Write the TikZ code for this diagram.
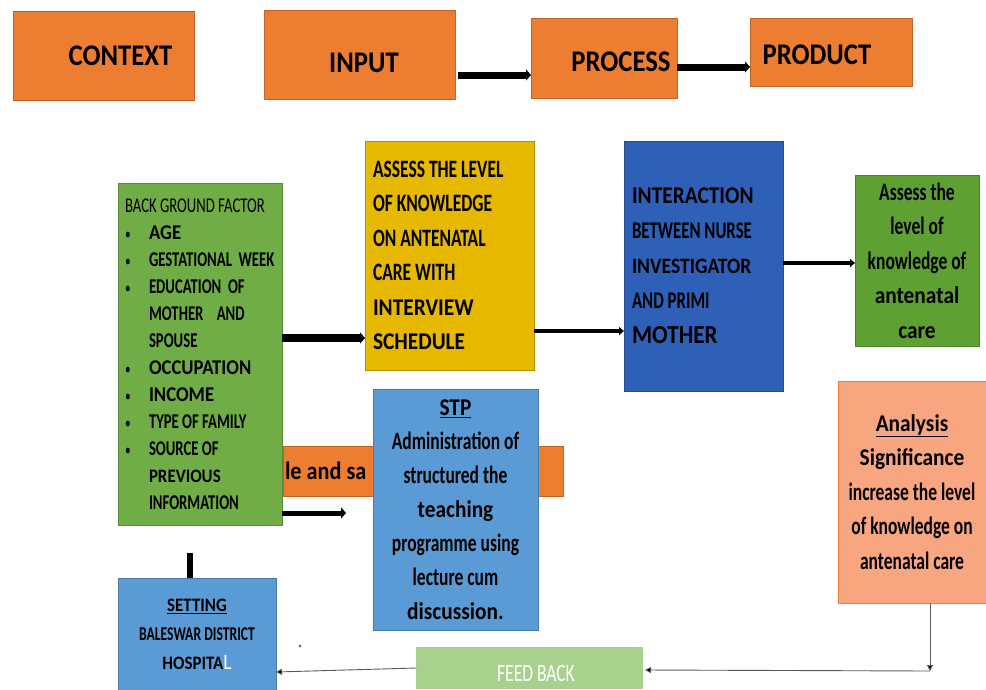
\documentclass[tikz,border=0pt]{standalone}
\usepackage{fontspec}
\setmainfont[FakeStretch=0.89]{Carlito}
\newfontfamily\narrowfont[FakeStretch=0.70]{Carlito}
\usetikzlibrary{arrows.meta}
\definecolor{cippOrange}{HTML}{ED7D31}
\definecolor{cippYellow}{HTML}{E6B800}
\definecolor{cippBlue}{HTML}{2F60B8}
\definecolor{bgGreen}{HTML}{70AD47}
\definecolor{outGreen}{HTML}{5FA033}
\definecolor{stpBlue}{HTML}{5B9BD5}
\definecolor{feedGreen}{HTML}{A9D18E}
\definecolor{anaSalmon}{HTML}{F8A67F}

\begin{document}
\begin{tikzpicture}[x=1pt, y=-1pt,
  box/.style={draw=#1!80!black, fill=#1, thin, inner sep=0pt, outer sep=0pt},
  bigarrow/.style={line width=7pt, -{Triangle[length=5pt,width=11pt]}},
  midarrow/.style={line width=3.5pt, -{Triangle[length=5pt,width=8pt]}},
  feedarrow/.style={line width=0.9pt, draw=gray!70!black, -{Triangle[length=6pt,width=6pt,fill=black]}}]
\useasboundingbox (0,0) rectangle (986,689);
% top row
\node[box=cippOrange, minimum width=181pt, minimum height=89pt, font=\bfseries\fontsize{30}{33}\selectfont] (context) at (103.5,55.5) {\hspace*{34pt}CONTEXT};
\node[box=cippOrange, minimum width=191pt, minimum height=89pt, font=\bfseries\fontsize{30}{33}\selectfont] (input) at (359.5,54.5) {\hspace*{9pt}\raisebox{-8pt}[\height][\depth]{INPUT}};
\node[box=cippOrange, minimum width=146pt, minimum height=80pt, font=\bfseries\fontsize{30}{33}\selectfont] (process) at (604,58) {\hspace*{34pt}\raisebox{-4pt}[\height][\depth]{PROCESS}};
\node[box=cippOrange, minimum width=162pt, minimum height=68pt, font=\bfseries\fontsize{30}{33}\selectfont] (product) at (831,52) {\raisebox{-3pt}[\height][\depth]{PRODUCT}\hspace*{28pt}};
\draw[bigarrow] ([xshift=3pt,yshift=-20.5pt]input.east) -- ([yshift=-17pt]process.west);
\draw[bigarrow] ([yshift=-9pt]process.east) -- ([yshift=-15pt]product.west);
% middle
\node[box=cippOrange, minimum width=280pt, minimum height=50pt, text width=276pt, inner xsep=2pt, align=flush left, font=\bfseries\fontsize{25}{27}\selectfont] (sample) at (423,471) {le and sa};
\node[box=bgGreen, minimum width=164pt, minimum height=342pt, text width=150pt, inner xsep=7pt, align=flush left, font=\narrowfont\fontsize{21}{27}\selectfont] (bg) at (200,354) {BACK GROUND FACTOR\\
\makebox[24pt][l]{\fontsize{16}{27}\selectfont\textbullet}{\rmfamily\bfseries AGE}\\
\makebox[24pt][l]{\fontsize{16}{27}\selectfont\textbullet}{\bfseries GESTATIONAL~~WEEK}\\
\makebox[24pt][l]{\fontsize{16}{27}\selectfont\textbullet}{\bfseries EDUCATION~~OF}\\
\hspace*{24pt}{\bfseries MOTHER~~~~AND}\\
\hspace*{24pt}{\bfseries SPOUSE}\\
\makebox[24pt][l]{\fontsize{16}{27}\selectfont\textbullet}{\rmfamily\bfseries OCCUPATION}\\
\makebox[24pt][l]{\fontsize{16}{27}\selectfont\textbullet}{\rmfamily\bfseries INCOME}\\
\makebox[24pt][l]{\fontsize{16}{27}\selectfont\textbullet}{\bfseries TYPE OF FAMILY}\\
\makebox[24pt][l]{\fontsize{16}{27}\selectfont\textbullet}{\bfseries SOURCE OF}\\
\hspace*{24pt}{\rmfamily\bfseries\fontsize{19}{27}\selectfont PREVIOUS}\\
\hspace*{24pt}{\bfseries INFORMATION}};
\node[box=cippYellow, minimum width=169pt, minimum height=229pt, text width=153pt, inner xsep=8pt, align=flush left, font=\narrowfont\bfseries\fontsize{25}{34.5}\selectfont] (assess) at (449.5,255.5) {ASSESS THE LEVEL\\
OF KNOWLEDGE\\
ON ANTENATAL\\
CARE WITH\\
{\rmfamily\fontsize{24}{34.5}\selectfont INTERVIEW}\\
{\rmfamily\fontsize{24}{34.5}\selectfont SCHEDULE}};
\node[box=cippBlue, minimum width=159pt, minimum height=250pt, text width=143pt, inner xsep=8pt, align=flush left, font=\narrowfont\bfseries\fontsize{24}{35}\selectfont] (interact) at (703.5,266) {{\rmfamily\fontsize{24}{35}\selectfont INTERACTION}\\
BETWEEN NURSE\\
{\rmfamily\fontsize{22}{35}\selectfont INVESTIGATOR}\\
AND PRIMI\\
{\rmfamily\fontsize{26}{35}\selectfont MOTHER}};
\node[box=outGreen, minimum width=124pt, minimum height=171pt, align=center, font=\narrowfont\bfseries\fontsize{25}{34.5}\selectfont] (outcome) at (917,260.5) {Assess the\\
level of\\
knowledge of\\
{\rmfamily\fontsize{24}{34.5}\selectfont antenatal}\\
{\rmfamily\fontsize{24}{34.5}\selectfont care}};
\draw[bigarrow, line width=8pt] ([yshift=16pt]bg.east) -- ([yshift=-82.5pt]assess.west);
\draw[midarrow] ([yshift=-75.5pt]assess.east) -- ([yshift=-65pt]interact.west);
\draw[midarrow] ([yshift=3pt]interact.east) -- ([yshift=-2.5pt]outcome.west);
\node[box=stpBlue, minimum width=165pt, minimum height=241pt, align=center, font=\narrowfont\bfseries\fontsize{25}{34}\selectfont] (stp) at (455.5,509.5) {{\rmfamily\fontsize{24}{34}\selectfont\underline{STP}}\\
Administration of\\
structured the\\
{\rmfamily\fontsize{24}{34}\selectfont teaching}\\
programme using\\
lecture cum\\
{\rmfamily\fontsize{24}{34}\selectfont discussion.}};
\coordinate (stpin) at (346,513);
\draw[bigarrow, line width=5pt] ([yshift=-159pt]bg.east) -- (stpin);
\node[box=anaSalmon, draw=cippOrange, minimum width=148pt, minimum height=222pt, align=center, font=\narrowfont\bfseries\fontsize{25}{34.5}\selectfont] (analysis) at (912,492) {{\rmfamily\fontsize{24}{34.5}\selectfont\underline{Analysis}}\\
{\rmfamily\fontsize{24}{34.5}\selectfont Significance}\\
increase the level\\
of knowledge on\\
antenatal care};
% bottom row
\node[box=stpBlue, minimum width=158pt, minimum height=112pt, align=center, font=\narrowfont\bfseries\fontsize{19.5}{29}\selectfont] (setting) at (197,634) {{\rmfamily\fontsize{19}{29}\selectfont\underline{SETTING}}\\
BALESWAR DISTRICT\\
{\rmfamily\fontsize{19}{29}\selectfont HOSPITA{\color{white}\mdseries\fontsize{22}{29}\selectfont L}}};
\coordinate (bgfoot) at (190,553);
\draw[line width=6pt] (bgfoot) -- (bgfoot |- setting.north);
\fill[stpBlue!80!black] (300,646) circle (1.6);
\node[box=feedGreen, draw=none, minimum width=227pt, minimum height=42pt, text=white, font=\narrowfont\fontsize{25}{26}\selectfont] (feedback) at (529.5,668) {\hspace*{13pt}\raisebox{-5pt}[\height][\depth]{FEED BACK}};
\coordinate (turn) at (930,671);
\draw[feedarrow] ([xshift=18pt]analysis.south) -- (turn);
\draw[feedarrow] (turn) -- ([xshift=2pt,yshift=-2pt]feedback.east);
\draw[feedarrow] (feedback.west) -- ([yshift=-38pt]setting.east);
\end{tikzpicture}
\end{document}
